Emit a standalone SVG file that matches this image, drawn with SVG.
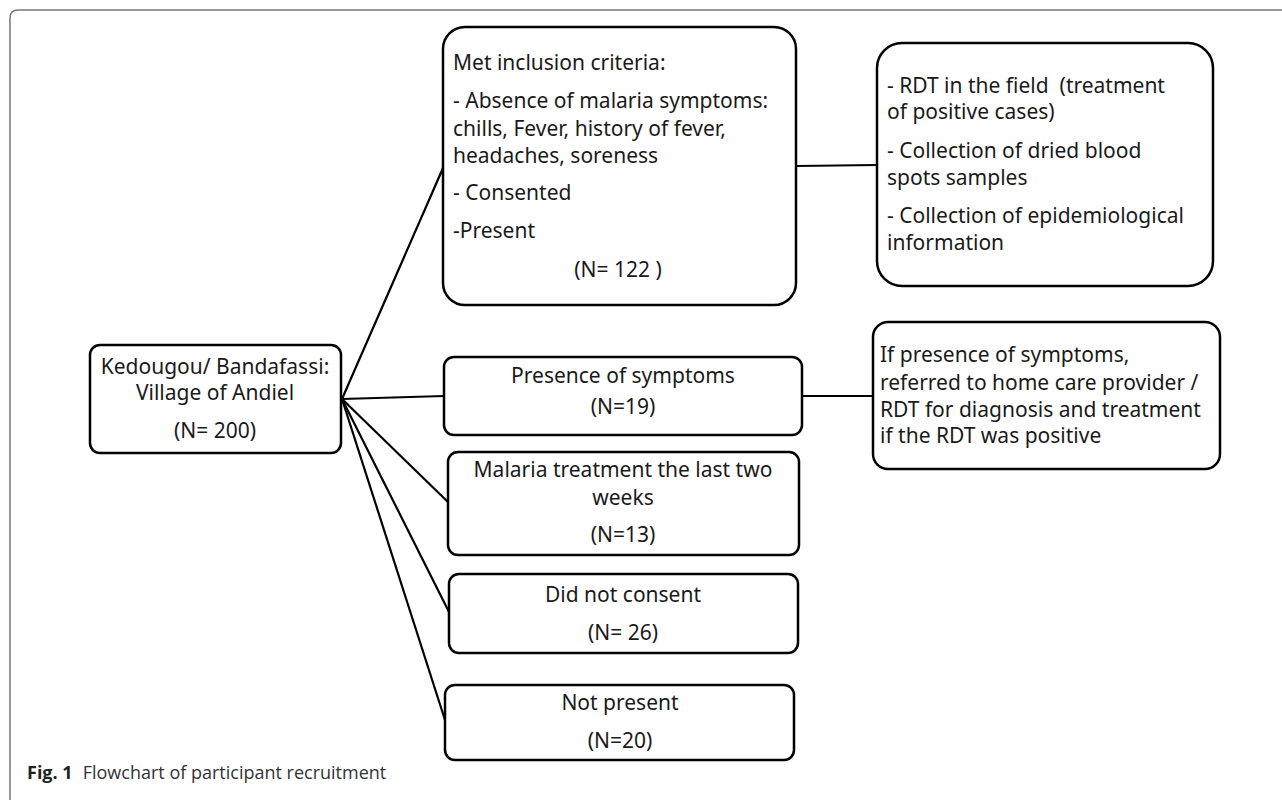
<svg xmlns="http://www.w3.org/2000/svg" width="1282" height="800" viewBox="0 0 1282 800">
<style>
.box{fill:#fff;stroke:#000;stroke-width:2.5}
.t{font-family:"Noto Sans","Open Sans","Liberation Sans",sans-serif;font-size:21px;fill:#1a1a1a}
.c{text-anchor:middle}
.con line{stroke:#000;stroke-width:2.2}
.cap{font-family:"Open Sans","Liberation Sans",sans-serif;font-size:18px;fill:#333}
</style>
<rect width="1282" height="800" fill="#fff"/>
<path d="M10,800 V18 Q10,10 18,10 H1282" fill="none" stroke="#777" stroke-width="1.5"/>
<g class="con">
<line x1="342" y1="399" x2="443" y2="168"/>
<line x1="342" y1="399" x2="444" y2="396"/>
<line x1="342" y1="399" x2="448" y2="502"/>
<line x1="342" y1="399" x2="449" y2="612"/>
<line x1="342" y1="399" x2="445" y2="720"/>
<line x1="796" y1="166" x2="877" y2="165"/>
<line x1="802" y1="396" x2="873" y2="396"/>
</g>
<g id="n-start">
<rect class="box" x="90" y="345" width="251" height="108" rx="10"/>
<text class="t c" x="215" y="374">Kedougou/ Bandafassi:</text>
<text class="t c" x="215" y="400">Village of Andiel</text>
<text class="t c" x="215" y="438">(N= 200)</text>
</g>
<g id="n-included">
<rect class="box" x="443" y="27" width="353" height="278" rx="22"/>
<text class="t" x="453" y="70">Met inclusion criteria:</text>
<text class="t" x="453" y="108">- Absence of malaria symptoms:</text>
<text class="t" x="453" y="136">chills, Fever, history of fever,</text>
<text class="t" x="453" y="163">headaches, soreness</text>
<text class="t" x="453" y="200">- Consented</text>
<text class="t" x="453" y="238">-Present</text>
<text class="t c" x="618" y="277">(N= 122 )</text>
</g>
<g id="n-actions">
<rect class="box" x="877" y="43" width="336" height="243" rx="25"/>
<text class="t" x="887" y="93" xml:space="preserve">- RDT in the field  (treatment</text>
<text class="t" x="887" y="119">of positive cases)</text>
<text class="t" x="887" y="158">- Collection of dried blood</text>
<text class="t" x="887" y="185">spots samples</text>
<text class="t" x="887" y="223">- Collection of epidemiological</text>
<text class="t" x="887" y="250">information</text>
</g>
<g id="n-symptoms">
<rect class="box" x="444" y="357" width="358" height="78" rx="10"/>
<text class="t c" x="623" y="383">Presence of symptoms</text>
<text class="t c" x="623" y="414">(N=19)</text>
</g>
<g id="n-referred">
<rect class="box" x="873" y="322" width="347" height="147" rx="15"/>
<text class="t" x="880" y="362">If presence of symptoms,</text>
<text class="t" x="880" y="390">referred to home care provider /</text>
<text class="t" x="880" y="417">RDT for diagnosis and treatment</text>
<text class="t" x="880" y="443">if the RDT was positive</text>
</g>
<g id="n-treated">
<rect class="box" x="448" y="452" width="351" height="103" rx="10"/>
<text class="t c" x="623" y="477">Malaria treatment the last two</text>
<text class="t c" x="623" y="505">weeks</text>
<text class="t c" x="623" y="542">(N=13)</text>
</g>
<g id="n-noconsent">
<rect class="box" x="449" y="574" width="349" height="79" rx="10"/>
<text class="t c" x="623" y="602">Did not consent</text>
<text class="t c" x="623" y="640">(N= 26)</text>
</g>
<g id="n-absent">
<rect class="box" x="445" y="685" width="349" height="75" rx="10"/>
<text class="t c" x="620" y="710">Not present</text>
<text class="t c" x="620" y="748">(N=20)</text>
</g>
<g id="caption">
<text class="cap" x="27" y="779"><tspan font-weight="bold" fill="#222">Fig. 1</tspan><tspan dx="10">Flowchart of participant recruitment</tspan></text>
</g>
</svg>
